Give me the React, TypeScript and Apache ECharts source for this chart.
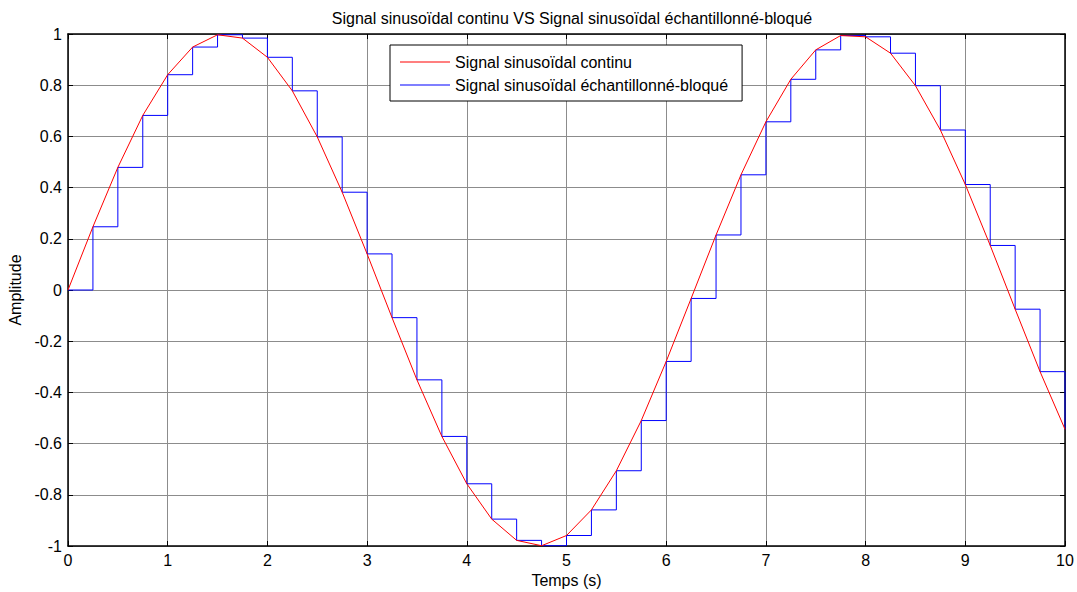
import React, { useEffect, useRef } from "react";
import * as echarts from "echarts";

const times = [0, 0.25, 0.5, 0.75, 1, 1.25, 1.5, 1.75, 2, 2.25, 2.5, 2.75, 3, 3.25, 3.5, 3.75, 4, 4.25, 4.5, 4.75, 5, 5.25, 5.5, 5.75, 6, 6.25, 6.5, 6.75, 7, 7.25, 7.5, 7.75, 8, 8.25, 8.5, 8.75, 9, 9.25, 9.5, 9.75, 10];
const amplitude = [0, 0.247, 0.479, 0.682, 0.841, 0.949, 0.997, 0.984, 0.909, 0.778, 0.598, 0.382, 0.141, -0.108, -0.351, -0.572, -0.757, -0.895, -0.978, -0.999, -0.959, -0.859, -0.706, -0.51, -0.279, -0.033, 0.215, 0.45, 0.657, 0.823, 0.938, 0.994, 0.989, 0.925, 0.798, 0.625, 0.412, 0.174, -0.075, -0.319, -0.544];
const seriesNames = ["Signal sinusoïdal continu", "Signal sinusoïdal échantillonné-bloqué"];
const titleText = "Signal sinusoïdal continu VS Signal sinusoïdal échantillonné-bloqué";

const FONT = "'Liberation Sans', Arial, sans-serif";
const FS = 16;

export default function App() {
  const ref = useRef<HTMLDivElement>(null);
  useEffect(() => {
    if (!ref.current) return;
    const chart = echarts.init(ref.current, undefined, { renderer: "svg" });
    const pts = times.map((t, i) => [t, amplitude[i]]);
    const axisCommon = {
      type: "value",
      axisLine: { show: true, onZero: false, lineStyle: { color: "#000", width: 1.5 } },
      axisTick: { show: true, inside: true, length: 5, lineStyle: { color: "#000" } },
    };
    chart.setOption({
      animation: false,
      backgroundColor: "#fff",
      title: {
        text: titleText,
        left: 567,
        textAlign: "center",
        top: 5,
        textStyle: { fontFamily: FONT, fontSize: FS, fontWeight: "normal", color: "#000" },
      },
      legend: {
        data: seriesNames.map((n) => ({ name: n, icon: "rect" })),
        orient: "vertical",
        left: 390,
        top: 45,
        itemWidth: 50,
        itemHeight: 1.2,
        itemGap: 5,
        padding: [8, 14, 7, 10],
        borderColor: "#000",
        borderWidth: 1,
        backgroundColor: "#fff",
        textStyle: { fontFamily: FONT, fontSize: FS, color: "#000", lineHeight: 18 },
      },
      grid: { left: 68, right: 12, top: 34, bottom: 46, containLabel: false, outerBoundsMode: "none" },
      xAxis: [
        {
          ...axisCommon,
          min: 0,
          max: 10,
          interval: 1,
          name: "Temps (s)",
          nameLocation: "middle",
          nameGap: 26,
          nameTextStyle: { fontFamily: FONT, fontSize: FS, color: "#000" },
          axisLabel: { fontFamily: FONT, fontSize: FS, color: "#000", margin: 6 },
          splitLine: { show: true, lineStyle: { color: "#8c8c8c", width: 1 } },
        },
        {
          ...axisCommon,
          position: "top",
          min: 0,
          max: 10,
          interval: 1,
          axisLabel: { show: false },
          splitLine: { show: false },
        },
      ],
      yAxis: [
        {
          ...axisCommon,
          min: -1,
          max: 1,
          interval: 0.2,
          name: "Amplitude",
          nameLocation: "middle",
          nameGap: 44,
          nameTextStyle: { fontFamily: FONT, fontSize: FS, color: "#000" },
          axisLabel: { fontFamily: FONT, fontSize: FS, color: "#000", margin: 6 },
          splitLine: { show: true, lineStyle: { color: "#8c8c8c", width: 1 } },
        },
        {
          ...axisCommon,
          position: "right",
          min: -1,
          max: 1,
          interval: 0.2,
          axisLabel: { show: false },
          splitLine: { show: false },
        },
      ],
      series: [
        {
          name: seriesNames[0],
          type: "line",
          data: pts,
          symbol: "none",
          lineStyle: { color: "#ff0000", width: 1 },
          itemStyle: { color: "#ff0000" },
          z: 3,
        },
        {
          name: seriesNames[1],
          type: "line",
          data: pts,
          step: "end",
          symbol: "none",
          lineStyle: { color: "#0000ff", width: 1 },
          itemStyle: { color: "#0000ff" },
          z: 2,
        },
      ],
    });
    return () => chart.dispose();
  }, []);
  return (
    <div
      ref={ref}
      style={{ position: "fixed", left: 0, top: 0, width: 1077, height: 592 }}
    />
  );
}
